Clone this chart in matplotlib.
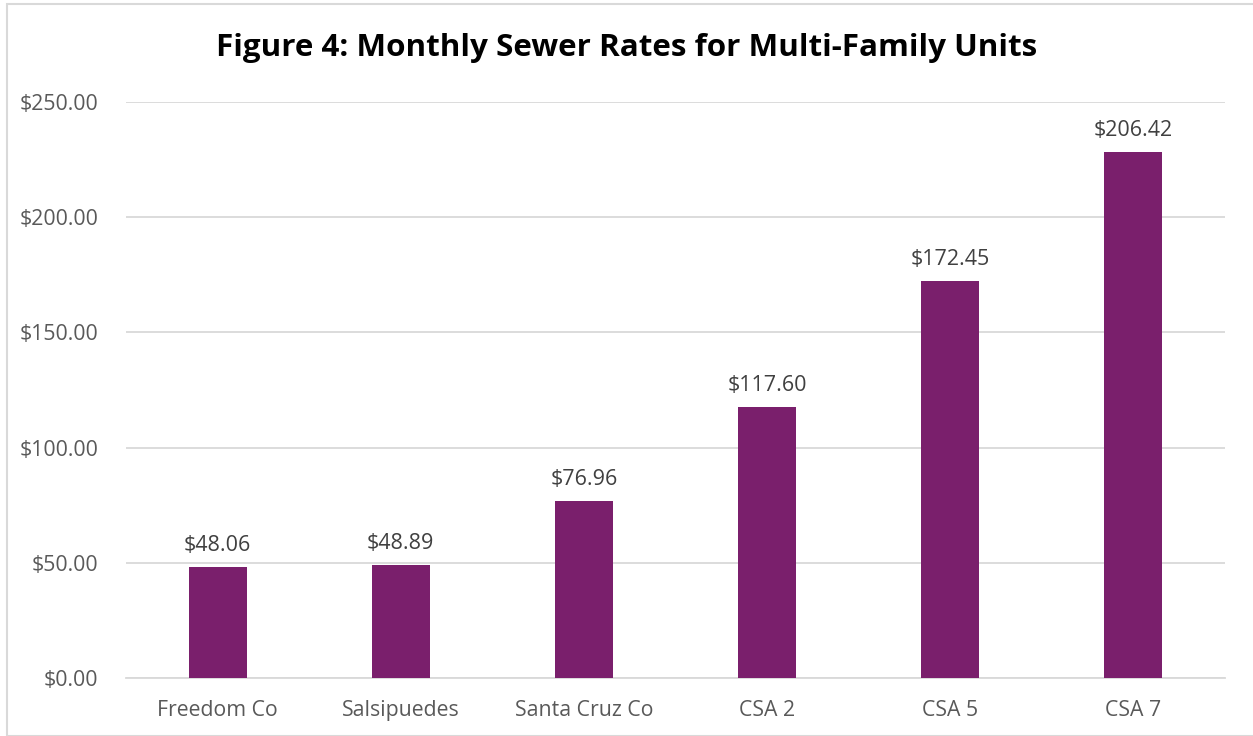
import matplotlib.pyplot as plt
from matplotlib.patches import Rectangle

# data
categories = ['Freedom Co', 'Salsipuedes', 'Santa Cruz Co', 'CSA 2', 'CSA 5', 'CSA 7']
bar_heights = [48.06, 48.89, 76.96, 117.60, 172.45, 228.3]
bar_labels = ['$48.06', '$48.89', '$76.96', '$117.60', '$172.45', '$206.42']
y_ticks = [0, 50, 100, 150, 200, 250]
title = 'Figure 4: Monthly Sewer Rates for Multi-Family Units'

BAR_COLOR = '#7A1F6C'
GRID_COLOR = '#D9D9D9'
TEXT_COLOR = '#595959'
plt.rcParams['font.family'] = ['Open Sans', 'DejaVu Sans']

fig = plt.figure(figsize=(12.53, 7.36), dpi=100)
W, H = 1253, 736
# axes in pixel coords: left 126, right 1225, top(250)=102, bottom(0)=678
ax = fig.add_axes([126/W, 1-678/H, (1225-126)/W, (678-102)/H])

x = range(len(categories))
ax.bar(x, bar_heights, width=0.316, color=BAR_COLOR, zorder=3)
for i, (h, lab) in enumerate(zip(bar_heights, bar_labels)):
    ax.annotate(lab, (i, h), xytext=(0, 8), textcoords='offset points',
                ha='center', va='bottom', fontsize=15.5, color='#404040')

ax.set_xlim(-0.5, len(categories)-0.5)
ax.set_ylim(0, 250)
ax.set_yticks(y_ticks)
ax.set_yticklabels(['${:.2f}'.format(v) for v in y_ticks])
ax.set_xticks(list(x))
ax.set_xticklabels(categories)
ax.tick_params(axis='both', length=0, labelsize=15.3, labelcolor=TEXT_COLOR)
ax.tick_params(axis='y', pad=20)
ax.tick_params(axis='x', pad=16)
ax.grid(axis='y', color=GRID_COLOR, linewidth=1.3, zorder=0)
for s in ['top', 'right', 'left']:
    ax.spines[s].set_visible(False)
ax.spines['bottom'].set_color(GRID_COLOR)
ax.spines['bottom'].set_linewidth(1.3)

fig.text(0.5, 1-48/H, title, ha='center', va='center',
         fontsize=22.6, fontweight='bold', color='black')

# outer chart frame
fig.patches.append(Rectangle((7/W, 0), 1.0, 1-4/H, transform=fig.transFigure,
                             fill=False, edgecolor='#D9D9D9', linewidth=1.5))

fig.savefig('out.png', dpi=100)
